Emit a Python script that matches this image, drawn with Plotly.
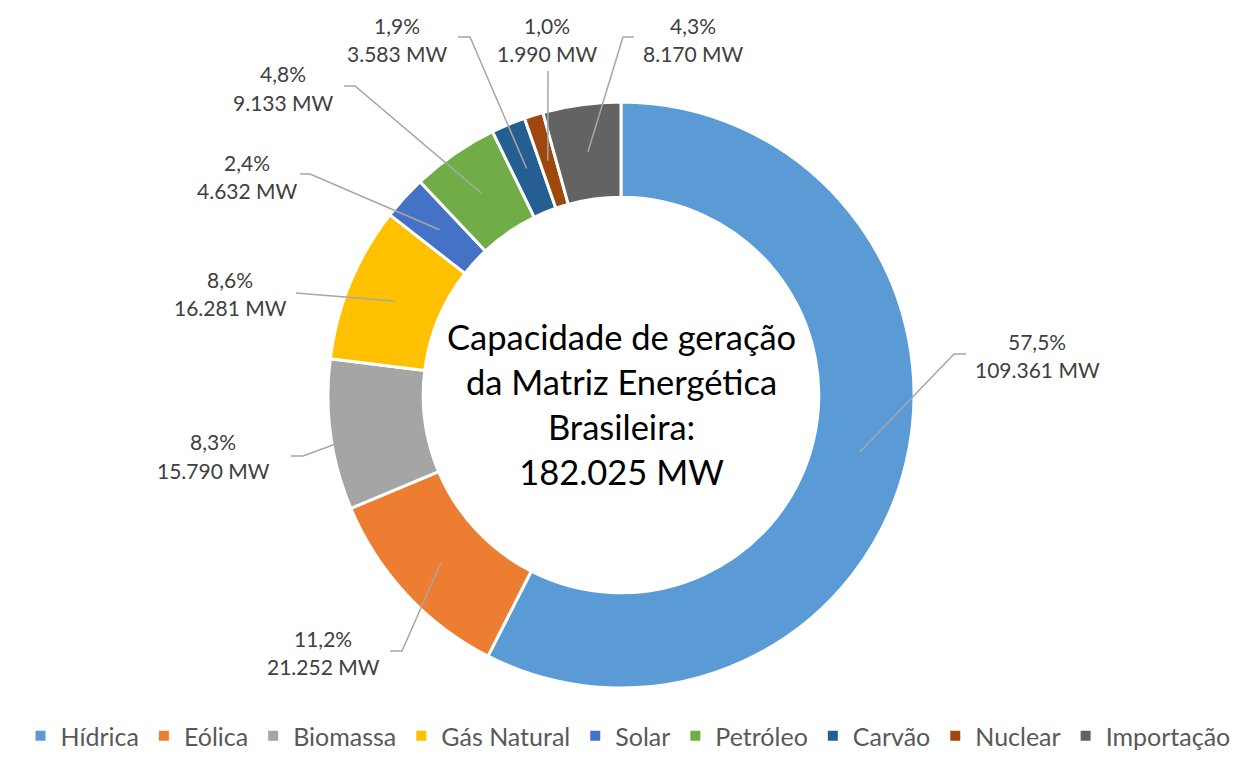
"""Matriz energetica brasileira - grafico de rosca com rotulos externos."""

import math

import plotly.graph_objects as go

# Dados
fontes = ["Hídrica", "Eólica", "Biomassa", "Gás Natural", "Solar",
          "Petróleo", "Carvão", "Nuclear", "Importação"]
potencia_mw = [109361, 21252, 15790, 16281, 4632, 9133, 3583, 1990, 8170]
cores = ["#5B9BD5", "#ED7D31", "#A5A5A5", "#FFC000", "#4472C4",
         "#70AD47", "#255E91", "#9E480E", "#636363"]
titulo_centro = ["Capacidade de geração", "da Matriz Energética",
                 "Brasileira:", "182.025 MW"]

# Layout (pixels na janela; a pagina tem margem de 8px no body)
OFF = 8
W, H = 1244 - OFF, 759 - OFF
CX, CY = 621, 395
R_OUT, HOLE = 293, 0.675
R_MID = R_OUT * (1 + HOLE) / 2
LABEL_COLOR = "#404040"
LINE_COLOR = "#A6A6A6"
FONT = "Lato, Open Sans, sans-serif"

# posicao do rotulo (centro) e ponto de ligacao/cotovelo da linha guia
label_pos = [(1037, 355), (323, 652), (213, 456), (230, 293), (247, 176),
             (283, 88), (397, 39), (547, 39), (693, 39)]
leader_end = [(966, 354), (390, 651), (291, 456), (296, 293), (300, 174),
              (344, 86), (458, 37), (548, 71), (634, 37)]
leader_elbow = [(954, 354), (402, 651), (303, 456), (308, 294), (310, 174),
                (355, 86), (470, 37), (548, 71), (623, 37)]


def px(x):
    return (x - OFF) / W


def py(y):
    return 1 - (y - OFF) / H


def fmt_mw(v):
    return f"{v:,}".replace(",", ".") + " MW"


def fmt_pct(p):
    return f"{p:.1f}".replace(".", ",") + "%"


total = sum(potencia_mw)

fig = go.Figure()
fig.add_trace(go.Pie(
    labels=fontes,
    values=potencia_mw,
    hole=HOLE,
    sort=False,
    direction="clockwise",
    rotation=0,
    marker=dict(colors=cores, line=dict(color="white", width=3)),
    textinfo="none",
    domain=dict(x=[px(CX - R_OUT), px(CX + R_OUT)],
                y=[py(CY + R_OUT), py(CY - R_OUT)]),
    hovertemplate="%{label}: %{value:,} MW<extra></extra>",
))

shapes = []
annotations = []
acc = 0
for i, v in enumerate(potencia_mw):
    mid = (acc + v / 2) / total
    acc += v
    ang = 2 * math.pi * mid
    ax = CX + R_MID * math.sin(ang)
    ay = CY - R_MID * math.cos(ang)
    ex, ey = leader_end[i]
    bx, by = leader_elbow[i]
    path = (f"M {px(ax)},{py(ay)} L {px(bx)},{py(by)} "
            f"L {px(ex)},{py(ey)}")
    shapes.append(dict(type="path", path=path, xref="paper", yref="paper",
                       line=dict(color=LINE_COLOR, width=1.5), layer="above"))
    lx, ly = label_pos[i]
    for dy, txt in ((-14, fmt_pct(v / total * 100)), (14, fmt_mw(v))):
        annotations.append(dict(
            x=px(lx), y=py(ly + dy), xref="paper", yref="paper",
            xanchor="center", yanchor="middle",
            text=txt, showarrow=False,
            font=dict(size=21, color=LABEL_COLOR, family=FONT),
        ))

annotations.append(dict(
    x=px(CX), y=py(404), xref="paper", yref="paper",
    xanchor="center", yanchor="middle",
    text="<br>".join(titulo_centro), showarrow=False,
    font=dict(size=34.5, color="#000000", family=FONT),
))

fig.update_layout(
    width=W, height=H,
    margin=dict(l=0, r=0, t=0, b=0),
    paper_bgcolor="white",
    plot_bgcolor="white",
    shapes=shapes,
    annotations=annotations,
    showlegend=True,
    legend=dict(
        orientation="h",
        x=px(628), xanchor="center",
        y=0, yanchor="bottom",
        font=dict(size=25, color="#595959", family=FONT),
        itemsizing="constant",
        traceorder="normal",
    ),
)

fig.write_html("out.html")
